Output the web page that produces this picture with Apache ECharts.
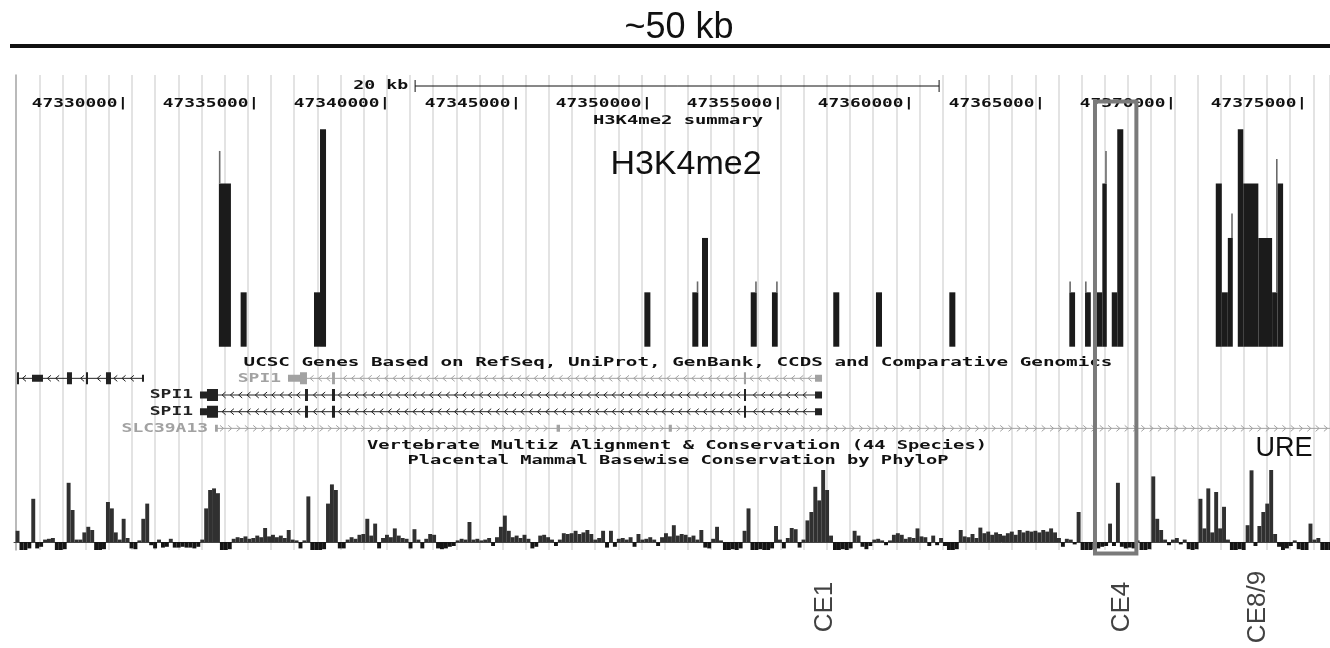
<!DOCTYPE html>
<html>
<head>
<meta charset="utf-8">
<script src="https://cdn.jsdelivr.net/npm/echarts@6/dist/echarts.min.js"></script>
<style>
html, body { margin: 0; padding: 0; background: #fff; }
#chart { width: 1330px; height: 648px; }
</style>
</head>
<body>
<div id="chart"></div>
<script>
// genome window shown (chr coordinates)
const viewStart = 47325840
const viewEnd = 47376070

const rulerTicks = [47330000, 47335000, 47340000, 47345000, 47350000, 47355000, 47360000, 47365000, 47370000, 47375000]
const scaleBar = [47341150, 47361150]
const scaleBarLabel = '20 kb'

// H3K4me2 summary: [start, end, level, max level, side of max line (0 left / 1 right)]
const h3k4Bars = [
  [47333660, 47334120, 3, 3.6, 0],
  [47334490, 47334720, 1, 0, 0],
  [47337290, 47337520, 1, 0, 0],
  [47337520, 47337750, 4, 0, 0],
  [47349900, 47350130, 1, 0, 0],
  [47351730, 47351960, 1, 1.2, 1],
  [47352100, 47352330, 2, 0, 0],
  [47353960, 47354190, 1, 1.2, 1],
  [47354770, 47354990, 1, 1.2, 1],
  [47357110, 47357340, 1, 0, 0],
  [47358740, 47358970, 1, 0, 0],
  [47361540, 47361770, 1, 0, 0],
  [47366120, 47366340, 1, 1.2, 0],
  [47366720, 47366940, 1, 1.2, 0],
  [47367170, 47367380, 1, 0, 0],
  [47367380, 47367550, 3, 3.6, 1],
  [47367740, 47367950, 1, 0, 0],
  [47367950, 47368180, 4, 0, 0],
  [47371710, 47371940, 3, 0, 0],
  [47371940, 47372170, 1, 0, 0],
  [47372170, 47372360, 2, 2.45, 1],
  [47372550, 47372760, 4, 0, 0],
  [47372760, 47373335, 3, 0, 0],
  [47373335, 47373860, 2, 0, 0],
  [47373860, 47374070, 1, 3.45, 1],
  [47374070, 47374280, 3, 0, 0]
]

// UCSC genes
const geneNames = ['', 'SPI1', 'SPI1', 'SPI1', 'SLC39A13']
const geneRows = [0, 0, 1, 2, 3]
const geneStrands = ['-', '-', '-', '-', '+']
const geneSpans = [
  [47325954, 47330800],
  [47336298, 47356681],
  [47332939, 47356681],
  [47332939, 47356681],
  [47333512, 47377000]
]
// exons: [start, end, 1 = UTR / 2 = coding]
const geneExons = [
  [[47325954, 47326010, 2], [47326527, 47326946, 1], [47327862, 47328053, 2], [47328588, 47328645, 2], [47329351, 47329542, 2], [47330725, 47330800, 1]],
  [[47336298, 47336756, 1], [47336756, 47337023, 2], [47337980, 47338090, 2], [47353700, 47353780, 2], [47356414, 47356681, 1]],
  [[47332939, 47333206, 1], [47333206, 47333626, 2], [47336947, 47337061, 2], [47337977, 47338092, 2], [47353703, 47353780, 2], [47356414, 47356681, 1]],
  [[47332939, 47333206, 1], [47333206, 47333626, 2], [47336947, 47337061, 2], [47337977, 47338092, 2], [47353703, 47353780, 2], [47356414, 47356681, 1]],
  [[47333512, 47333620, 1], [47346550, 47346680, 1], [47350830, 47350950, 1]]
]

// PhyloP conservation, one value every consStep bp from consStart
const consStart = 47325900
const consStep = 150
const consValues = [
  1.4, -1, -1, -0.8, 5.4, -0.8, -0.6, 0.3, 0.4, 0.5,
  -1, -1, -0.9, 7.4, 4.0, 0.3, 0.3, 1.2, 1.9, 1.5,
  -1, -1, -0.9, 5.0, 4.2, 1.2, 0.3, 2.9, 0.5, -0.8,
  -0.9, 0.2, 2.9, 4.8, -0.4, -0.8, 0.3, -0.7, -0.6, 0.4,
  -0.7, -0.7, -0.6, -0.7, -0.7, -0.8, -0.6, 0.3, 4.2, 6.5,
  6.7, 6.1, -1, -1, -0.9, 0.4, 0.6, 0.5, 0.7, 0.4,
  0.5, 0.8, 0.6, 1.75, 0.7, 0.9, 0.6, 0.8, 0.5, 1.5,
  0.3, 0.2, -0.8, 0.2, 5.7, -1, -1, -1, -0.9, 4.8,
  7.2, 6.5, -0.8, -0.8, 0.3, 0.6, 0.4, 0.9, 1.0, 2.9,
  0.8, 2.3, -0.8, 0.5, 0.9, 0.6, 1.7, 0.8, 0.5, 0.4,
  -0.8, 1.6, 0.3, -0.8, 0.4, 1.0, 0.9, -0.8, -0.9, -0.8,
  -0.6, -0.5, 0.2, 0.4, 0.3, 2.5, 0.3, 0.4, 0.2, 0.3,
  0.5, -0.5, 0.6, 1.9, 3.3, 1.4, 0.6, 0.8, 0.5, 0.9,
  0.4, -0.8, -0.6, 0.8, 0.9, 0.6, 0.3, -0.5, 0.3, 1.1,
  1.0, 1.1, 1.4, 1.0, 1.2, 1.5, 1.0, 0.3, 0.5, 1.4,
  -0.7, 1.4, -0.6, 0.4, 0.5, 0.3, 0.6, -0.6, 1.0, 0.3,
  0.4, 0.6, 0.3, -0.5, 0.6, 1.1, 0.7, 2.1, 0.8, 1.0,
  0.9, 0.6, 0.8, 0.3, 1.5, -0.7, -0.8, 0.4, 1.9, 0.2,
  -1, -1, -0.9, -1, -0.8, 1.4, 4.2, -1, -1, -0.9,
  -1, -1, -0.8, 2.0, 0.3, -0.8, 0.5, 1.75, 1.6, -0.7,
  0.3, 2.7, 3.75, 6.9, 5.2, 9, 6.5, 0.8, -1, -1,
  -0.9, -1, -0.8, 1.4, 0.8, -0.6, -0.9, -0.5, 0.3, 0.4,
  0.2, -0.4, 0.2, 0.9, 1.1, 0.9, 0.4, 0.6, 0.5, 1.7,
  0.7, 0.6, -0.5, 0.8, -0.4, 0.5, -0.5, -1, -1, -0.9,
  1.5, 0.7, 0.6, 1.0, 0.5, 1.8, 1.1, 1.3, 0.9, 1.2,
  1.0, 0.8, 1.1, 1.3, 0.9, 1.5, 1.2, 1.4, 1.3, 1.4,
  1.2, 1.5, 1.3, 1.7, 1.2, 0.5, -0.6, 0.4, 0.3, -0.3,
  3.75, -1, -1, -1, -0.9, -0.8, -0.6, -0.5, 2.3, -0.5,
  7.4, -0.6, -0.8, -0.7, -0.8, 0.2, -1, -1, -0.9, 8.2,
  2.9, 1.5, 0.3, -0.4, 0.3, 0.5, -0.3, 0.3, -0.9, -1,
  -0.9, 5.4, 1.7, 6.7, 1.2, 6.25, 1.7, 4.4, 0.3, -1,
  -1, -0.9, -1, 2.1, 8.96, -0.5, 2.0, 3.75, 4.8, 9,
  1.0, -0.6, -1, -0.8, -0.5, 0.2, -0.9, -1, -1, 2.3,
  0.3, 0.5, -1, -1, -1
]

// conserved elements labelled under the track
const ceNames = ['CE1', 'CE4', 'CE8/9']
const cePositions = [47356795, 47368130, 47373323]

// boxed region (CE4)
const highlightSpan = [47367100, 47368680]

const mono = '"DejaVu Sans Mono", monospace'
const sans = '"Liberation Sans", Arial, sans-serif'
const pixelFont = 'bold 13px ' + mono
const geneColor = ['#222', '#a2a2a2', '#222', '#222', '#a2a2a2']

const chart = echarts.init(document.getElementById('chart'))

const renderScale = (params, api) => {
  const a = api.coord([api.value(0), 0.5])
  const b = api.coord([api.value(1), 0.5])
  const st = { stroke: '#111', lineWidth: 1 }
  return {
    type: 'group',
    children: [
      { type: 'line', shape: { x1: a[0], y1: a[1], x2: b[0], y2: b[1] }, style: st },
      { type: 'line', shape: { x1: a[0], y1: a[1] - 6, x2: a[0], y2: a[1] + 6 }, style: st },
      { type: 'line', shape: { x1: b[0], y1: b[1] - 6, x2: b[0], y2: b[1] + 6 }, style: st },
      { type: 'text', x: a[0] - 7, y: a[1], scaleX: 1.4,
        style: { text: scaleBarLabel, font: pixelFont, fill: '#111', align: 'right', textAlign: 'right', verticalAlign: 'middle', textVerticalAlign: 'middle' } }
    ]
  }
}

const renderRuler = (params, api) => {
  const p = api.coord([api.value(0), 0.5])
  return {
    type: 'text', x: p[0] + 5.3, y: p[1], scaleX: 1.37,
    style: { text: api.value(0) + '|', font: pixelFont, fill: '#111', align: 'right', textAlign: 'right', verticalAlign: 'middle', textVerticalAlign: 'middle' }
  }
}

const renderH3 = (params, api) => {
  const s = api.value(0), e = api.value(1), v = api.value(2), m = api.value(3), side = api.value(4)
  const a = api.coord([s, 0])
  const b = api.coord([e, v])
  const children = [{
    type: 'rect',
    shape: { x: a[0], y: b[1], width: b[0] - a[0], height: a[1] - b[1] },
    style: { fill: '#1b1b1b' }
  }]
  if (m > v) {
    const wx = side ? b[0] - 0.8 : a[0] + 0.8
    const top = api.coord([s, m])[1]
    children.push({ type: 'line', shape: { x1: wx, y1: b[1], x2: wx, y2: top }, style: { stroke: '#6a6a6a', lineWidth: 1.6 } })
  }
  return { type: 'group', children }
}

const renderGene = (params, api) => {
  const i = params.dataIndex
  const row = geneRows[i] + 0.5
  const color = geneColor[i]
  const p0 = api.coord([geneSpans[i][0], row])
  const p1 = api.coord([geneSpans[i][1], row])
  const y = p0[1]
  const ex = geneExons[i].map(([s, e, h]) => [api.coord([s, row])[0], api.coord([e, row])[0], h])
  const children = [{ type: 'line', shape: { x1: p0[0], y1: y, x2: p1[0], y2: y }, style: { stroke: color, lineWidth: 1 } }]
  const d = geneStrands[i] === '+' ? 1 : -1
  for (let x = p0[0] + 7; x < p1[0] - 3; x += 8.3) {
    if (ex.some(([a, b]) => x > a - 3 && x < b + 3)) continue
    children.push({
      type: 'polyline',
      shape: { points: [[x - 2 * d, y - 3], [x + 1.5 * d, y], [x - 2 * d, y + 3]] },
      style: { stroke: color, lineWidth: 1, fill: null }
    })
  }
  ex.forEach(([a, b, h]) => {
    const hh = h === 2 ? 12 : 7
    children.push({ type: 'rect', shape: { x: a, y: y - hh / 2, width: Math.max(b - a, 2), height: hh }, style: { fill: color } })
  })
  if (geneNames[i]) {
    children.push({
      type: 'text', x: p0[0] - 7, y: y, scaleX: 1.38,
      style: { text: geneNames[i], font: pixelFont, fill: color, align: 'right', textAlign: 'right', verticalAlign: 'middle', textVerticalAlign: 'middle' }
    })
  }
  return { type: 'group', children }
}

const renderCons = (params, api) => {
  const s = api.value(0), v = api.value(1)
  const a = api.coord([s, 0])
  const b = api.coord([s + consStep, v])
  return {
    type: 'rect',
    shape: { x: a[0], y: Math.min(a[1], b[1]), width: b[0] - a[0], height: Math.abs(a[1] - b[1]) },
    style: { fill: v < 0 ? '#141414' : '#303030' }
  }
}

const trackX = (gi, extra) => Object.assign({ gridIndex: gi, type: 'value', min: viewStart, max: viewEnd, show: false }, extra || {})
const hiddenY = (gi, min, max, extra) => Object.assign({ gridIndex: gi, type: 'value', min, max, show: false }, extra || {})

const titleText = (id, text, x, y, font, scaleX) => ({
  id, type: 'text', x, y, scaleX: scaleX || 1, z: 50,
  style: { text, font, fill: '#111', align: 'center', textAlign: 'center', verticalAlign: 'middle', textVerticalAlign: 'middle' }
})

const option = {
  animation: false,
  backgroundColor: '#fff',
  grid: [
    { left: 16.14, right: 0, top: 75, height: 475 },   // guide lines
    { left: 10, right: 0, top: 44, height: 4 },        // ~50 kb bar
    { left: 14, right: 0, top: 80, height: 12 },       // 20 kb scale
    { left: 14, right: 0, top: 98, height: 12 },       // ruler
    { left: 14, right: 0, top: 129.2, height: 217.5 }, // H3K4me2
    { left: 14, right: 0, top: 370, height: 66.7 },    // genes
    { left: 14, right: 0, top: 470, height: 80 },      // conservation
    { left: 14, right: 0, top: 566, height: 82 }       // CE labels
  ],
  xAxis: [
    { gridIndex: 0, type: 'value', min: 0, max: 56.72, interval: 1,
      axisLine: { show: false }, axisTick: { show: false }, axisLabel: { show: false },
      splitLine: { show: true, lineStyle: { color: '#dcdcdc', width: 1.6 } } },
    trackX(1), trackX(2), trackX(3), trackX(4), trackX(5),
    trackX(6, { show: true, axisLabel: { show: false }, axisTick: { show: false }, splitLine: { show: false },
      axisLine: { show: true, onZero: true, lineStyle: { color: '#444', width: 1 } } }),
    trackX(7)
  ],
  yAxis: [
    { gridIndex: 0, type: 'value', min: 0, max: 1, axisTick: { show: false }, axisLabel: { show: false }, splitLine: { show: false },
      axisLine: { show: true, lineStyle: { color: '#b0b0b0', width: 1.6 } } },
    hiddenY(1, 0, 1), hiddenY(2, 0, 1), hiddenY(3, 0, 1),
    hiddenY(4, 0, 4),
    hiddenY(5, 0, 4, { inverse: true }),
    hiddenY(6, -1, 9),
    hiddenY(7, 0, 1)
  ],
  graphic: [
    titleText('t0', '~50 kb', 679, 28, '36px ' + sans),
    titleText('t1', 'H3K4me2 summary', 678, 121, pixelFont, 1.45),
    titleText('t2', 'H3K4me2', 686, 165, '34px ' + sans),
    titleText('t3', 'UCSC Genes Based on RefSeq, UniProt, GenBank, CCDS and Comparative Genomics', 678, 362.5, pixelFont, 1.48),
    titleText('t4', 'Vertebrate Multiz Alignment & Conservation (44 Species)', 677, 446, pixelFont, 1.44),
    titleText('t5', 'Placental Mammal Basewise Conservation by PhyloP', 678, 461, pixelFont, 1.44),
    titleText('t6', 'URE', 1284, 449, '27px ' + sans)
  ],
  series: [
    { type: 'line', xAxisIndex: 1, yAxisIndex: 1, symbol: 'none', silent: true,
      data: [[viewStart, 0.5], [viewEnd, 0.5]], lineStyle: { color: '#111', width: 4 } },
    { type: 'custom', xAxisIndex: 2, yAxisIndex: 2, silent: true, renderItem: renderScale,
      data: [[scaleBar[0], scaleBar[1]]] },
    { type: 'custom', xAxisIndex: 3, yAxisIndex: 3, silent: true, renderItem: renderRuler,
      data: rulerTicks.map(v => [v, 0.5]) },
    { type: 'custom', xAxisIndex: 4, yAxisIndex: 4, silent: true, renderItem: renderH3,
      encode: { x: [0, 1], y: 2 }, data: h3k4Bars },
    { type: 'custom', xAxisIndex: 5, yAxisIndex: 5, silent: true, clip: true, renderItem: renderGene,
      data: geneSpans.map((s, i) => [s[0], geneRows[i] + 0.5]) },
    { type: 'custom', xAxisIndex: 6, yAxisIndex: 6, silent: true, clip: true, renderItem: renderCons,
      data: consValues.map((v, i) => [consStart + i * consStep, v]) },
    { type: 'scatter', xAxisIndex: 7, yAxisIndex: 7, silent: true, symbolSize: 1,
      itemStyle: { color: 'rgba(0,0,0,0)' },
      data: ceNames.map((n, i) => ({ name: n, value: [cePositions[i], 0.5] })),
      label: { show: true, formatter: '{b}', position: 'inside', rotate: 90, align: 'center', verticalAlign: 'middle',
        fontSize: 26, fontFamily: sans, color: '#111' } }
  ]
}

chart.setOption(option)

// grey box around CE4, placed through the conservation axis
const hx = highlightSpan.map(v => chart.convertToPixel({ xAxisIndex: 6 }, v))
chart.setOption({
  graphic: [{
    id: 'hl', type: 'rect', z: 100,
    shape: { x: hx[0], y: 101.5, width: hx[1] - hx[0], height: 452 },
    style: { fill: 'rgba(0,0,0,0)', stroke: '#7a7a7a', lineWidth: 4 }
  }]
})
</script>
</body>
</html>
